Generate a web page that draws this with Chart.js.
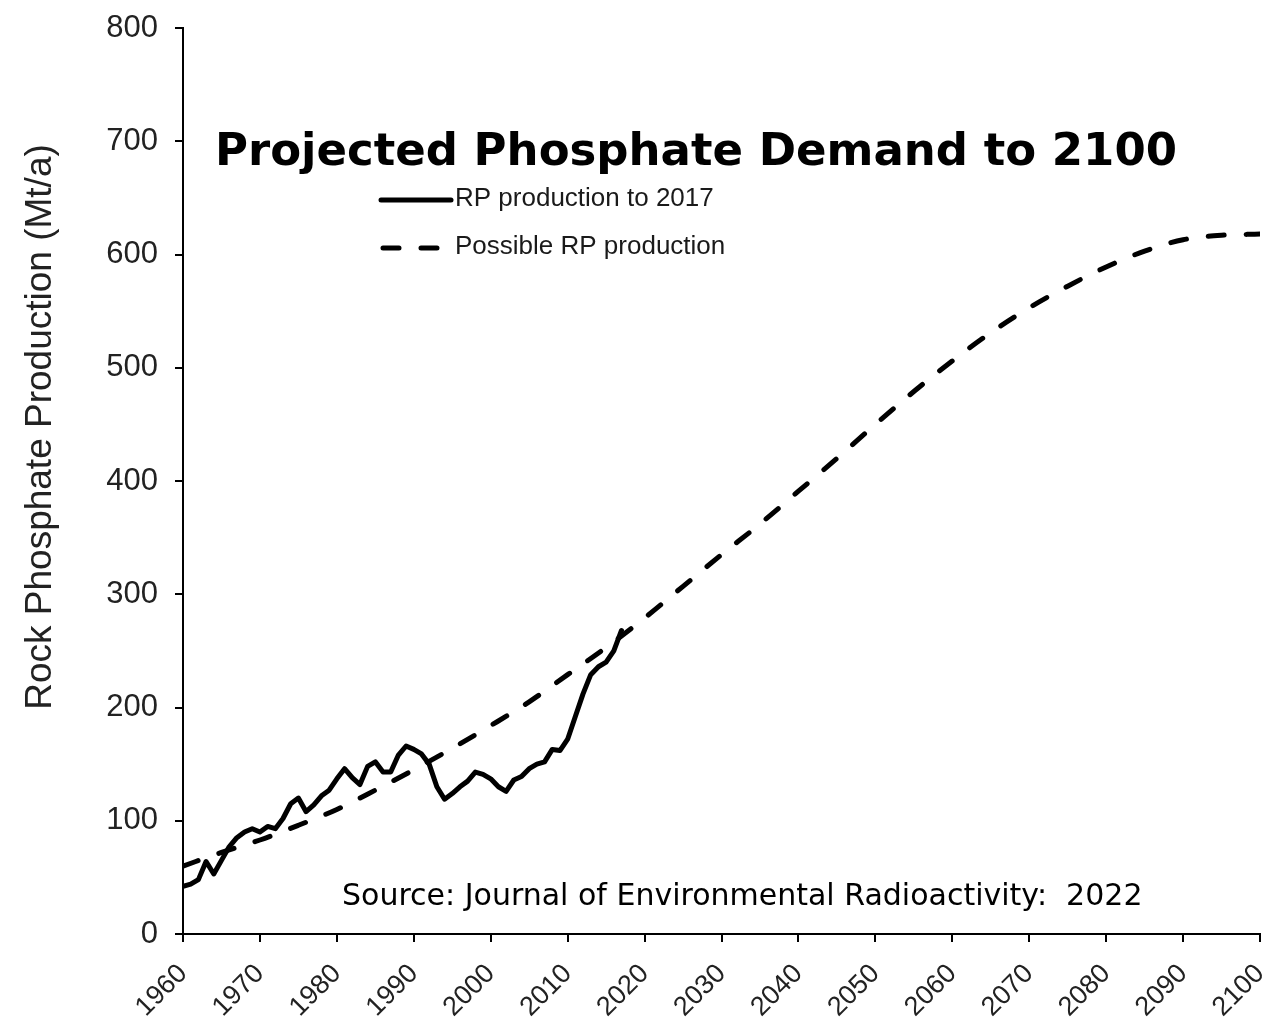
<!DOCTYPE html>
<html>
<head>
<meta charset="utf-8">
<title>Projected Phosphate Demand to 2100</title>
<script src="https://cdn.jsdelivr.net/npm/chart.js@4.4.0/dist/chart.umd.min.js"></script>
<style>
  html, body { margin: 0; padding: 0; background: #fff; }
  #wrap { width: 1269px; height: 1026px; position: relative; }
</style>
</head>
<body>
<div id="wrap"><canvas id="chart"></canvas></div>
<script>
// rock phosphate production, Mt/a
const prodYears = [];
for (let y = 1960; y <= 2017; y++) prodYears.push(y);
const prodValues = [
  42, 44, 48, 64, 53, 65, 77, 85, 90, 93,        // 1960s
  90, 95, 93, 102, 115, 120, 108, 114, 122, 127, // 1970s
  137, 146, 138, 132, 148, 152, 143, 143, 158, 166, // 1980s
  163, 159, 150, 130, 119, 124, 130, 135, 143, 141, // 1990s
  137, 130, 126, 136, 139, 146, 150, 152, 163, 162, // 2000s
  172, 192, 212, 229, 236, 240, 250, 268          // 2010-2017
];

// possible production curve, every 5 years
const projYears = [1960, 1965, 1970, 1975, 1980, 1985, 1990, 1995, 2000, 2005,
  2010, 2015, 2020, 2025, 2030, 2035, 2040, 2045, 2050, 2055,
  2060, 2065, 2070, 2075, 2080, 2085, 2090, 2095, 2100];
const projValues = [60, 72, 83, 96, 110, 127, 145, 164, 184, 205,
  229, 253, 279, 307, 335, 362, 391, 420, 450, 479,
  506, 531, 553, 572, 589, 603, 613, 617, 618];

const xTickYears = [1960, 1970, 1980, 1990, 2000, 2010, 2020, 2030, 2040, 2050, 2060, 2070, 2080, 2090, 2100];
const yTickValues = [0, 100, 200, 300, 400, 500, 600, 700, 800];

const seriesNames = ['RP production to 2017', 'Possible RP production'];
const chartTitle = 'Projected Phosphate Demand to 2100';
const yAxisTitle = 'Rock Phosphate Production (Mt/a)';
const sourceNote = 'Source: Journal of Environmental Radioactivity:  2022';

const DASH = [16, 22];

// title, legend, source and y title drawn straight on the canvas
const overlay = {
  id: 'overlay',
  afterDraw(chart) {
    const ctx = chart.ctx;
    ctx.save();
    ctx.fillStyle = '#000';

    ctx.font = 'bold 45px "DejaVu Sans"';
    ctx.textBaseline = 'alphabetic';
    ctx.textAlign = 'left';
    ctx.fillText(chartTitle, 215, 165);

    // legend
    ctx.strokeStyle = '#000';
    ctx.lineWidth = 5;
    ctx.lineCap = 'round';
    ctx.beginPath();
    ctx.moveTo(381, 200);
    ctx.lineTo(451, 200);
    ctx.stroke();
    ctx.setLineDash(DASH);
    ctx.beginPath();
    ctx.moveTo(383, 248);
    ctx.lineTo(445, 248);
    ctx.stroke();
    ctx.setLineDash([]);

    ctx.fillStyle = '#1a1a1a';
    ctx.font = '26px "Liberation Sans", Arial';
    ctx.textBaseline = 'middle';
    ctx.fillText(seriesNames[0], 455, 199);
    ctx.fillText(seriesNames[1], 455, 247);

    ctx.fillStyle = '#000';
    ctx.font = '30px "DejaVu Sans"';
    ctx.textBaseline = 'alphabetic';
    ctx.fillText(sourceNote, 342, 905);

    // y axis title
    ctx.fillStyle = '#222';
    ctx.translate(51, 427);
    ctx.rotate(-Math.PI / 2);
    ctx.textAlign = 'center';
    ctx.font = '37px "Liberation Sans", Arial';
    ctx.fillText(yAxisTitle, 0, 0);
    ctx.restore();
  }
};

const ctx = document.getElementById('chart').getContext('2d');
const chart = new Chart(ctx, {
  type: 'line',
  data: {
    datasets: [
      {
        label: seriesNames[1],
        data: projYears.map((x, i) => ({ x: x, y: projValues[i] })),
        borderColor: '#000',
        borderWidth: 5,
        borderDash: DASH,
        borderCapStyle: 'round',
        tension: 0.4,
        cubicInterpolationMode: 'monotone',
        pointRadius: 0,
        fill: false
      },
      {
        label: seriesNames[0],
        data: prodYears.map((x, i) => ({ x: x, y: prodValues[i] })),
        borderColor: '#000',
        borderWidth: 5,
        borderJoinStyle: 'round',
        borderCapStyle: 'round',
        tension: 0,
        pointRadius: 0,
        fill: false
      }
    ]
  },
  options: {
    responsive: true,
    maintainAspectRatio: false,
    animation: false,
    layout: { padding: { top: 28, right: 9, bottom: 0, left: 0 } },
    plugins: {
      legend: { display: false },
      title: { display: false },
      tooltip: { enabled: false }
    },
    scales: {
      x: {
        type: 'linear',
        min: 1960,
        max: 2100,
        afterBuildTicks: s => { s.ticks = xTickYears.map(v => ({ value: v })); },
        afterFit: s => { s.height = 92; s.paddingRight = 0; s.paddingLeft = 0; },
        border: { display: true, color: '#000', width: 2 },
        grid: { display: true, drawOnChartArea: false, drawTicks: true, tickLength: 8, color: '#000', lineWidth: 2 },
        ticks: {
          minRotation: 45,
          maxRotation: 45,
          padding: 16,
          color: '#222',
          font: { family: '"Liberation Sans", Arial', size: 27 },
          callback: v => String(v)
        }
      },
      y: {
        min: 0,
        max: 800,
        afterBuildTicks: s => { s.ticks = yTickValues.map(v => ({ value: v })); },
        afterFit: s => { s.width = 183; s.paddingTop = 0; s.paddingBottom = 0; },
        border: { display: true, color: '#000', width: 2 },
        grid: { display: true, drawOnChartArea: false, drawTicks: true, tickLength: 8, color: '#000', lineWidth: 2 },
        ticks: {
          padding: 17,
          color: '#222',
          font: { family: '"Liberation Sans", Arial', size: 31 },
          callback: v => String(v)
        }
      }
    }
  },
  plugins: [overlay]
});
</script>
</body>
</html>
